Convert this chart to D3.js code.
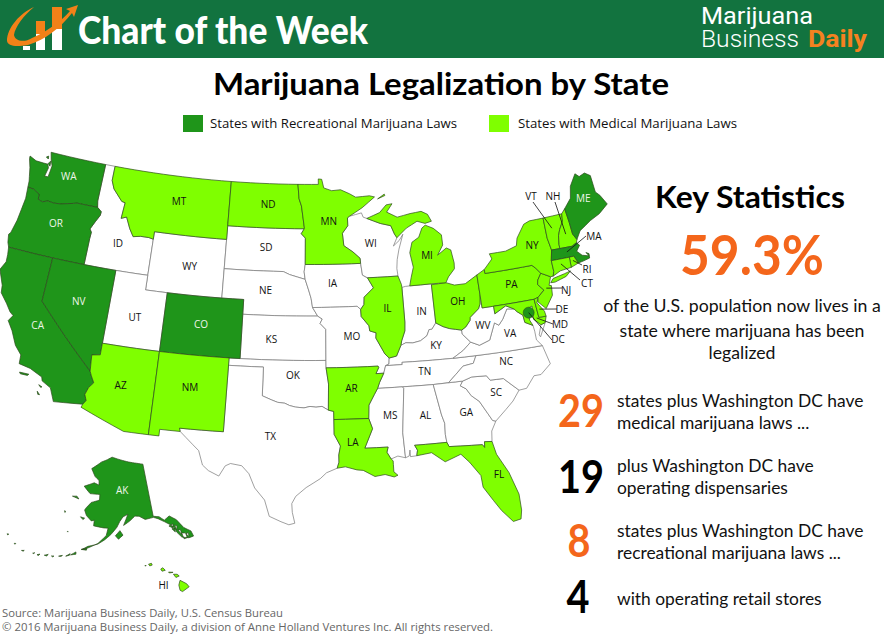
<!DOCTYPE html>
<html>
<head>
<meta charset="utf-8">
<script src="https://cdn.jsdelivr.net/npm/d3@7"></script>
<style>
  html, body { margin: 0; padding: 0; background: #fff; overflow: hidden; }
  text { font-family: Lato, sans-serif; }
</style>
</head>
<body>
<svg id="chart" width="884" height="634"></svg>
<script>
// Legal status by state
var recreationalStates = ["WA", "OR", "CA", "NV", "CO", "AK", "MA", "ME"];
var medicalStates = ["MT", "ND", "MN", "AZ", "NM", "AR", "LA", "FL", "IL", "MI", "OH", "PA", "NY", "VT", "NH", "RI", "CT", "NJ", "DE", "MD", "HI"];
var legendLabels = ["States with Recreational Marijuana Laws", "States with Medical Marijuana Laws"];

// Text of the statistics panel
var keyHeadline = "59.3%";
var keyLines = ["of the U.S. population now lives in a", "state where marijuana has been", "legalized"];
var statNumbers = ["29", "19", "8", "4"];
var statLines = [
  ["states plus Washington DC have", "medical marijuana laws ..."],
  ["plus Washington DC have", "operating dispensaries"],
  ["states plus Washington DC have", "recreational marijuana laws ..."],
  ["with operating retail stores"]
];

// Shared borders, lon/lat
var columbia = [[-116.92,46],[-118.98,46],[-119.3,45.93],[-120.5,45.7],[-121.2,45.65],[-121.8,45.7],[-122.3,45.55],[-122.75,45.65],[-122.8,46],[-123.2,46.15],[-123.5,46.25],[-124.05,46.27]];
var snake = [[-117.03,43.8],[-117,44.25],[-117.2,44.45],[-116.85,45],[-116.5,45.5],[-116.48,45.75],[-116.92,46]];
var idMt = [[-116.05,48],[-115.7,47.45],[-114.7,46.7],[-114.35,46.65],[-114.45,45.55],[-113.95,45.7],[-113.45,44.95],[-113,44.45],[-112.3,44.55],[-111.5,44.55],[-111.05,44.48]];
var coloradoRiver = [[-114.72,32.72],[-114.5,33],[-114.7,33.4],[-114.5,33.9],[-114.15,34.27],[-114.45,34.7],[-114.63,35]];
var redNorth = [[-97.23,49],[-97.1,48],[-96.85,47.5],[-96.55,46],[-96.56,45.94]];
var mnSd = [[-96.56,45.94],[-96.85,45.6],[-96.45,45.3],[-96.45,43.5]];
var missouriNe = [[-96.45,42.49],[-96.1,41.7],[-95.9,41.2],[-95.77,40.58],[-95.31,40]];
var kansasEast = [[-95.31,40],[-94.9,39.8],[-95.1,39.5],[-94.6,39.1],[-94.62,37]];
var redSouth = [[-94.48,33.64],[-95,33.9],[-95.5,33.85],[-96,33.9],[-96.5,33.8],[-97.2,33.85],[-97.7,33.95],[-98.1,34.1],[-98.7,34.15],[-99.2,34.3],[-100,34.56]];
var sabine = [[-94.04,32],[-93.55,31.2],[-93.7,30.6],[-93.7,30.1],[-93.85,29.7]];
var missIowa = [[-91.22,43.5],[-91.1,42.7],[-90.65,42.5],[-90.15,41.8],[-91.05,41.2],[-91.1,40.7],[-91.42,40.38]];
var missMo = [[-91.42,40.38],[-91.4,39.9],[-90.75,39.25],[-90.7,38.9],[-90.15,38.75],[-90.2,38.4],[-89.5,37.3],[-89.15,37]];
var missAr = [[-90.3,35],[-90.6,34.6],[-91.1,33.9],[-91.17,33]];
var missLa = [[-91.17,33],[-90.9,32.3],[-91.6,31]];
var mnWi = [[-92.1,46.75],[-92.3,46.65],[-92.3,46.1],[-92.85,45.6],[-92.75,44.75],[-91.9,44.3],[-91.25,43.85],[-91.22,43.5]];
var ohioIl = [[-87.53,39.35],[-87.6,38.75],[-87.95,38.1],[-88.05,37.8],[-88.5,37.1],[-89.15,37]];
var ohioIn = [[-84.8,39.1],[-85.2,38.7],[-85.45,38.7],[-85.7,38.3],[-86.3,38],[-87,37.9],[-87.6,37.95],[-88.05,37.8]];
var ohioOh = [[-80.52,40.64],[-80.65,40],[-80.85,39.7],[-81.7,39.2],[-81.75,39],[-82.2,38.6],[-82.6,38.42]];
var ohioKy = [[-82.6,38.42],[-83.65,38.62],[-84.2,38.8],[-84.8,39.1]];
var kyWv = [[-82.6,38.42],[-82.6,38.15],[-81.97,37.54]];
var vaWv = [[-81.97,37.54],[-81.25,37.25],[-80.3,37.5],[-79.65,38.6],[-79.3,38.4],[-78.87,38.76],[-78.35,39.4],[-77.72,39.32]];
var potomac = [[-76.35,38],[-77,38.3],[-77.05,38.8],[-77.5,39.1],[-77.72,39.32]];
var ncSc = [[-83.1,35],[-82.3,35.2],[-81.05,35.15],[-80.8,34.82],[-79.68,34.8],[-78.55,33.86]];
var gaSc = [[-83.1,35],[-83.35,34.7],[-82.9,34.45],[-82.55,33.95],[-81.95,33.5],[-81.4,32.6],[-81.1,32.1],[-80.85,32.03]];
var alGa = [[-85.6,34.98],[-85.18,32.87],[-85,32.3],[-85.05,31.55],[-85,31]];
var delaware = [[-74.7,41.36],[-75.1,40.95],[-75.2,40.65],[-74.75,40.2],[-75.4,39.8]];
var nyNe = [[-73.35,45],[-73.4,43.6],[-73.25,42.75]];
var ctRiver = [[-71.5,45.01],[-71.6,44.5],[-72.05,44],[-72.3,43.6],[-72.45,43],[-72.46,42.73]];
var nhMe = [[-71.1,45.3],[-71,44.3],[-70.97,43.5],[-70.7,43.07]];

function rev(a) { return a.slice().reverse(); }

// State outlines, lon/lat, one list of rings per state
var WA = [[[-124.05,46.27],[-124.1,46.7],[-124.2,47],[-124.4,47.6],[-124.7,48.2],[-124.72,48.38],[-124,48.17],[-123.2,48.15],[-122.75,48.15],[-122.6,47.9],[-122.75,47.3],[-122.4,47.3],[-122.35,47.7],[-122.3,48.1],[-122.55,48.5],[-122.76,49],[-117.03,49],[-117.04,46.43]].concat(columbia),
  [[-122.75,48.2],[-122.55,48.4],[-122.5,48.05]], [[-123.1,48.6],[-122.9,48.7],[-122.85,48.5]]];
var OR = [[[-124.05,46.27],[-123.95,45.5],[-124.05,44.7],[-124.15,43.9],[-124.4,43],[-124.55,42.84],[-124.4,42.3],[-124.21,42],[-117.03,42]].concat(snake, columbia)];
var CA = [[[-124.21,42],[-124.1,41.5],[-124.05,41],[-124.4,40.4],[-123.8,39.4],[-123.7,38.9],[-123,38.3],[-122.5,37.8],[-122.15,37.6],[-122.45,37.2],[-121.9,36.6],[-121.3,35.7],[-120.65,35.15],[-120.6,34.55],[-119.6,34.4],[-118.5,34],[-118.4,33.75],[-117.6,33.4],[-117.12,32.53]].concat(coloradoRiver, [[-120,39],[-120,42]]),
  [[-120.4,34],[-119.6,34],[-119.7,33.9],[-120.3,33.9]], [[-118.6,33.45],[-118.3,33.35],[-118.4,33.3]], [[-118.6,33],[-118.35,32.8],[-118.5,32.8]]];
var NV = [[[-120,42],[-114.04,42],[-114.04,36.2],[-114.75,36.1],[-114.63,35],[-120,39]]];
var ID = [[[-117.03,49],[-116.05,49]].concat(idMt, [[-111.05,42],[-114.04,42],[-117.03,42]], snake, [[-117.04,46.43]])];
var MT = [[[-116.05,49],[-104.05,49],[-104.05,45],[-111.05,45]].concat(rev(idMt))];
var WY = [[[-111.05,45],[-104.05,45],[-104.05,41],[-111.05,41]]];
var UT = [[[-114.04,42],[-111.05,42],[-111.05,41],[-109.05,41],[-109.05,37],[-114.04,37]]];
var CO = [[[-109.05,41],[-102.05,41],[-102.05,37],[-109.05,37]]];
var AZ = [[[-114.04,37],[-109.05,37],[-109.05,31.33],[-111.07,31.33],[-114.81,32.5]].concat(coloradoRiver, [[-114.75,36.1],[-114.04,36.2]])];
var NM = [[[-109.05,37],[-103,37],[-103.04,32],[-106.62,32],[-106.53,31.78],[-108.2,31.78],[-108.2,31.33],[-109.05,31.33]]];
var ND = [[[-104.05,49]].concat(redNorth, [[-104.05,45.94]])];
var SD = [[[-104.05,45.94]].concat(mnSd, [[-96.55,43],[-96.45,42.49],[-97.9,42.8],[-98.5,43],[-104.05,43]])];
var NE = [[[-104.05,43],[-98.5,43],[-97.9,42.8]].concat(missouriNe, [[-102.05,40],[-102.05,41],[-104.05,41]])];
var KS = [[[-102.05,40]].concat(kansasEast, [[-102.05,37]])];
var OK = [[[-103,37],[-94.62,37],[-94.62,36.5],[-94.43,35.4]].concat(redSouth, [[-100,36.5],[-103,36.5]])];
var TX = [[[-103,36.5],[-100,36.5]].concat(rev(redSouth), [[-94.04,33.55],[-94.04,33]], sabine, [[-94.7,29.4],[-95.2,29],[-96.3,28.4],[-97.1,27.8],[-97.4,27.3],[-97.35,26.7],[-97.15,25.96],[-97.6,25.85],[-98.2,26.05],[-99.1,26.4],[-99.5,27.5],[-100.3,28.3],[-100.8,29.25],[-101.4,29.77],[-102.3,29.88],[-102.7,29.7],[-103.15,28.98],[-104,29.3],[-104.5,29.65],[-104.9,30.6],[-106,31.4],[-106.53,31.78],[-106.62,32],[-103.04,32]])];
var MN = [[[-97.23,49],[-95.15,49],[-95.15,49.38],[-94.8,49.35],[-94.6,48.75],[-93.8,48.55],[-92.9,48.6],[-92,48.3],[-91.4,48.05],[-90,48.1],[-89.5,48],[-90.8,47.3]].concat(mnWi, [[-96.45,43.5]], rev(mnSd), rev(redNorth))];
var IA = [[[-96.45,43.5]].concat(missIowa, [[-91.72,40.6],[-95.77,40.58],[-95.9,41.2],[-96.1,41.7],[-96.45,42.49],[-96.55,43]])];
var MO = [[[-95.77,40.58],[-91.72,40.6]].concat(missMo, [[-89.2,36.6],[-89.5,36.5],[-89.7,36],[-90.37,36],[-90.1,36.4],[-90.15,36.5],[-94.62,36.5]], rev(kansasEast))];
var AR = [[[-94.62,36.5],[-90.15,36.5],[-90.1,36.4],[-90.37,36],[-89.7,36],[-90.1,35.4]].concat(missAr, [[-94.04,33],[-94.04,33.55],[-94.48,33.64],[-94.43,35.4]])];
var LA = [[[-94.04,33]].concat(missLa, [[-89.73,31],[-89.85,30.65],[-89.55,30.18],[-89.4,30.05],[-89.4,29.8],[-89.4,29.3],[-89.1,29.05],[-89.4,28.95],[-90.1,29.15],[-90.9,29.05],[-91.8,29.5],[-92.3,29.55],[-93.2,29.78]], rev(sabine))];
var WI = [[[-92.1,46.75],[-90.9,46.95],[-90.75,46.65],[-90.4,46.55],[-89.1,46.15],[-88.1,45.95],[-87.8,45.35],[-87.6,45.1],[-88,44.55],[-87.4,44.9],[-87,45.3],[-87.5,44.3],[-87.75,43.6],[-87.85,43],[-87.8,42.49],[-90.65,42.5],[-91.1,42.7],[-91.22,43.5]].concat(rev(mnWi))];
var IL = [[[-90.65,42.5],[-87.8,42.49],[-87.55,41.9],[-87.53,41.7]].concat(ohioIl, rev(missMo), [[-91.1,40.7],[-91.05,41.2],[-90.15,41.8]])];
var IN = [[[-87.53,41.7],[-87.2,41.75],[-86.8,41.76],[-84.8,41.76]].concat(ohioIn, [[-87.95,38.1],[-87.6,38.75],[-87.53,39.35]])];
var OH = [[[-84.8,41.7],[-83.45,41.73],[-82.7,41.5],[-81.7,41.5],[-80.52,41.98]].concat(ohioOh, ohioKy)];
var KY = [[[-89.15,37],[-88.5,37.1]].concat(rev(ohioIn), rev(ohioKy), kyWv.slice(1), [[-82.7,37.05],[-83.68,36.6],[-88.07,36.65],[-88.07,36.5],[-89.5,36.5],[-89.2,36.6]])];
var TN = [[[-89.5,36.5],[-88.07,36.5],[-88.07,36.65],[-83.68,36.6],[-81.68,36.59],[-82,36.1],[-82.9,36],[-84.3,35],[-85.6,34.98],[-88.2,35],[-90.3,35],[-90.1,35.4],[-89.7,36]]];
var MS = [[[-90.3,35],[-88.2,35],[-88.1,34.9],[-88.47,31.9],[-88.4,30.2],[-89,30.35],[-89.55,30.18],[-89.85,30.65],[-89.73,31],[-91.6,31],[-90.9,32.3],[-91.17,33],[-91.1,33.9],[-90.6,34.6]]];
var AL = [[[-88.2,35]].concat(alGa, [[-87.6,31],[-87.4,30.65],[-87.5,30.28],[-88,30.25],[-88,30.7],[-88.1,30.3],[-88.4,30.2],[-88.47,31.9],[-88.1,34.9]])];
var GA = [[[-85.6,34.98]].concat(gaSc, [[-81.3,31.4],[-81.4,30.7],[-82,30.75],[-82.05,30.36],[-82.2,30.57],[-84.86,30.7]], rev(alGa))];
var FL = [[[-87.6,31],[-85,31],[-84.86,30.7],[-82.2,30.57],[-82.05,30.36],[-82,30.75],[-81.4,30.7],[-81.2,29.8],[-80.45,28.45],[-79.95,26.9],[-79.95,25.8],[-80.1,25.2],[-80.7,25.1],[-81.45,25.95],[-81.95,26.7],[-82.6,27.7],[-82.65,28.5],[-83.4,29.5],[-84,30.1],[-85.3,29.7],[-86.3,30.4],[-87.5,30.28],[-87.4,30.65]]];
var SC = [ncSc.concat([[-79.2,33.2],[-79.9,32.7]], rev(gaSc))];
var NC = [[[-84.3,35]].concat(ncSc, [[-77.9,33.9],[-77.1,34.65],[-76.5,34.65],[-75.55,35.25],[-75.9,36.55],[-81.68,36.59],[-82,36.1],[-82.9,36]])];
var VA = [[[-83.68,36.6],[-81.68,36.59],[-75.9,36.55],[-76.3,37],[-76.3,37.6]].concat(potomac, rev(vaWv), [[-82.7,37.05]]),
  [[-75.65,37.95],[-75.25,38.03],[-75.9,37.15],[-75.98,37.3]]];
var WV = [ohioOh.concat(kyWv.slice(1), vaWv.slice(1), [[-78.4,39.62],[-79.48,39.2],[-79.48,39.72],[-80.52,39.72]])];
var PA = [[[-80.52,41.98],[-79.76,42.27],[-79.76,42],[-75.35,42],[-75.05,41.75]].concat(delaware, [[-75.79,39.72],[-80.52,39.72]])];
var MD = [[[-79.48,39.72],[-75.79,39.72],[-75.7,38.46],[-75.05,38.45],[-75.25,38.03],[-75.65,37.95],[-76.2,38.4],[-76.1,39.3],[-76.45,39.2],[-76.55,38.4]].concat(potomac, [[-78.4,39.62],[-79.48,39.2]])];
var DE = [[[-75.79,39.72],[-75.4,39.8],[-75.6,39.45],[-75.1,38.8],[-75.05,38.45],[-75.7,38.46]]];
var NJ = [delaware.concat([[-75.5,39.5],[-74.9,38.95],[-74.1,39.75],[-74,40.4],[-74.2,40.45],[-73.9,41]])];
var NY = [[[-79.76,42.27],[-78.9,42.9],[-79.05,43.27],[-77.5,43.27],[-76.4,43.5],[-76.2,44],[-75.3,44.85],[-74.7,45]].concat(nyNe, [[-73.5,42.05],[-73.5,41.3],[-73.65,41],[-73.9,41],[-74.7,41.36],[-75.05,41.75],[-75.35,42],[-79.76,42]]),
  [[-74,40.6],[-73.7,40.85],[-72.6,41],[-72,41.1],[-72.5,40.8],[-73.6,40.58]]];
var VT = [[[-73.35,45]].concat(ctRiver, [[-73.25,42.75],[-73.4,43.6]])];
var NH = [ctRiver.concat([[-71.3,42.7],[-70.82,42.87]], rev(nhMe))];
var ME = [[[-71.1,45.3],[-70.3,45.9],[-70,46.7],[-69.23,47.46],[-68.9,47.2],[-68.3,47.35],[-67.8,47.07],[-67.78,45.9],[-67.45,45.6],[-67,44.9],[-68,44.4],[-69,44.1],[-70.2,43.6]].concat(rev(nhMe))];
var MA = [[[-73.5,42.05],[-73.25,42.75],[-72.46,42.73],[-71.3,42.7],[-70.82,42.87],[-70.6,42.65],[-71,42.3],[-70.6,41.95],[-70,41.8],[-70.2,42.07],[-69.95,41.95],[-70,41.65],[-70.65,41.55],[-71.12,41.5],[-71.38,42.02],[-71.8,42.02]]];
var RI = [[[-71.8,42.02],[-71.38,42.02],[-71.12,41.5],[-71.85,41.32]]];
var CT = [[[-73.5,42.05],[-71.8,42.02],[-71.85,41.32],[-72.9,41.25],[-73.65,41],[-73.5,41.3]]];
var MI = [[[-86.8,41.76],[-84.8,41.76],[-83.45,41.73],[-83.15,42.1],[-82.5,42.6],[-82.45,43],[-82.6,43.9],[-83,44.07],[-83.9,43.65],[-83.3,44.3],[-83.3,45],[-84,45.5],[-84.75,45.78],[-85.1,45.6],[-85.5,45],[-86.2,44.7],[-86.5,44],[-86.3,43],[-86.6,42.3]],
  [[-90.4,46.55],[-89.1,46.9],[-88.4,47.4],[-87.8,47.45],[-88.4,46.9],[-87.4,46.5],[-86.1,46.67],[-85,46.75],[-84.4,46.5],[-84.1,46],[-84.75,45.9],[-85.5,46.1],[-86.6,45.7],[-87.6,45.1],[-87.8,45.35],[-88.1,45.95],[-89.1,46.15]],
  [[-89.2,47.85],[-88.5,48.15],[-88.45,48.05]]];
var AK = [[[-141,69.65],[-144,70],[-148,70.4],[-152,70.85],[-156.6,71.35],[-159,70.85],[-162,70.3],[-166.2,68.9],[-164,67.6],[-162,67],[-161.8,66.2],[-164,66.5],[-168,65.6],[-165,64.5],[-161,64.6],[-160.9,63.6],[-164,63],[-165.5,62],[-166,61.5],[-165,60.6],[-163,59.8],[-162,60],[-162,59],[-158.5,58.8],[-157,58.8],[-157.5,57.5],[-160,56],[-163,55],[-164.7,54.6],[-163,55.3],[-160,55.9],[-158,56.7],[-156,57.7],[-154,59],[-153,60],[-151.8,60.8],[-150,61.2],[-151.7,59.3],[-149.5,60],[-147.5,60.8],[-146,60.7],[-144,60],[-141,60.1],[-139.5,59.7],[-137.5,58.9],[-136,58.2],[-135,57.5],[-134.5,56.5],[-133.5,55.5],[-131.5,55],[-130,55],[-130.2,56],[-132,57],[-133.5,58.7],[-135.5,59.7],[-137.5,59.2],[-139,60],[-141,60.3]],
  [[-154.5,57.5],[-153,58.4],[-152,57.6],[-153.5,56.9]], [[-171.7,63.4],[-169,63.2],[-170,63.6]], [[-167,60.2],[-165.5,60.1],[-166,59.8]],
  [[-164.9,54.6],[-163.2,54.9],[-163.3,54.6]], [[-167.7,53.3],[-166.3,54],[-166.2,53.6]], [[-169,52.9],[-167.9,53.5],[-168,53.2]], [[-171,52.6],[-170,52.9],[-170.2,52.7]], [[-173,52.3],[-172.3,52.4],[-172.6,52.2]], [[-175,52.05],[-174,52.4],[-174.3,52.05]],
  [[-177,51.7],[-176.3,52],[-176.5,51.7]], [[-178.3,51.7],[-177.8,51.9],[-178,51.7]], [[-181.5,51.4],[-180.8,51.6],[-181,51.4]], [[-184.2,52],[-183.8,52.1],[-183.9,51.9]], [[-187.3,52.9],[-186.8,53],[-187,52.8]], [[-170.3,57.2],[-170,57.2],[-170.1,57.1]], [[-173,60.6],[-172.6,60.4],[-172.8,60.3]],
  [[-136.5,58],[-135,58.2],[-135.4,57.5]], [[-135.8,57.4],[-134.9,57.4],[-135,56.7]], [[-134.6,57.9],[-133.9,57.6],[-134.4,57]], [[-134,56.9],[-133.2,56.8],[-133.3,55.9]], [[-133.2,56.2],[-132,56],[-132,55.1],[-133,55.1]], [[-132,55.8],[-131.2,55.9],[-131.3,55.2]]];
var HI = [[[-155.9,20.25],[-155.1,19.85],[-154.8,19.5],[-155.6,18.95],[-155.9,19.1],[-156.05,19.7]], [[-156.7,20.95],[-156.25,20.95],[-156,20.75],[-156.4,20.58]], [[-158.25,21.55],[-158,21.7],[-157.7,21.4],[-158.1,21.3]],
  [[-159.75,22.1],[-159.4,22.2],[-159.3,22],[-159.6,21.9]], [[-157.3,21.2],[-156.75,21.17],[-157.2,21.1]], [[-160.2,21.9],[-160.1,22],[-160.05,21.9]]];
var stateShapes = {WA,OR,CA,NV,ID,MT,WY,UT,CO,AZ,NM,ND,SD,NE,KS,OK,TX,MN,IA,MO,AR,LA,WI,IL,IN,OH,KY,TN,MS,AL,GA,FL,SC,NC,VA,WV,PA,MD,DE,NJ,NY,VT,NH,ME,MA,RI,CT,MI,AK,HI};

// Where each state's abbreviation sits, lon/lat
var labelSpots = {WA:[-120.4,47.68],OR:[-120.5,44.35],CA:[-119.85,37.3],NV:[-116.8,39.5],ID:[-114.3,43.85],MT:[-109.1,47.28],WY:[-107.3,42.93],UT:[-111.6,39.03],CO:[-105.7,39.07],AZ:[-111.9,34.4],NM:[-106.1,34.8],ND:[-100.2,47.54],SD:[-100.2,44.6],NE:[-100.1,41.67],KS:[-99.4,38.36],OK:[-97.45,35.95],TX:[-99.2,31.8],MN:[-94.15,46.4],IA:[-93.9,42.2],MO:[-92.3,38.55],AR:[-92.5,35.1],LA:[-92.55,31.4],WI:[-90.15,44.8],IL:[-89,40.35],IN:[-85.95,39.97],OH:[-82.6,40.4],KY:[-85,37.55],TN:[-86.2,35.9],MS:[-89.4,33.1],AL:[-86.5,32.95],GA:[-83.15,32.85],FL:[-81.25,28.4],SC:[-80.45,33.95],NC:[-79.2,35.9],WV:[-80.7,38.55],VA:[-78.45,37.7],PA:[-77.55,40.95],NY:[-74.95,43.3],ME:[-69.1,45.65],MI:[-84.9,43.7],AK:[-151.8,65.4],HI:[-157.9,19.65]};

// Northeast labels sit outside the map and point back with a leader line
var leaderLabels = [
  {name:"VT", x:531, y:196, sx:533, sy:202, target:[-72.75,44.2]},
  {name:"NH", x:553, y:196, sx:555, sy:202, target:[-71.6,43.6]},
  {name:"MA", x:594, y:236, sx:586, sy:236, target:[-71.9,42.4]},
  {name:"RI", x:587, y:269, sx:582, sy:265, target:[-71.55,41.75]},
  {name:"CT", x:587, y:283, sx:580, sy:280, target:[-72.7,41.7]},
  {name:"NJ", x:566, y:290, sx:562, sy:288, target:[-74.5,40.3]},
  {name:"DE", x:562, y:309, sx:557, sy:309, target:[-75.5,39]},
  {name:"MD", x:560, y:324, sx:553, sy:324, target:[-75.9,38.45]},
  {name:"DC", x:558, y:339, sx:552, sy:340, target:[-76.5,38.9]}
];
var dcSpot = [-76.5, 38.9];

var svg = d3.select("#chart");

// Colours
var darkGreen = "#1f951a", lightGreen = "#7fff00", orange = "#f4661b", band = "#12733f";

function statusColor(name) {
  if (recreationalStates.includes(name)) return darkGreen;
  if (medicalStates.includes(name)) return lightGreen;
  return "#fff";
}

// Small text helper
function label(g, x, y, str, size, opts) {
  opts = opts || {};
  var t = g.append("text").attr("x", x).attr("y", y).text(str)
    .attr("font-size", size)
    .attr("font-weight", opts.weight || 400)
    .attr("fill", opts.fill || "#111")
    .attr("text-anchor", opts.anchor || "start");
  if (opts.family) t.style("font-family", opts.family);
  if (opts.len) t.attr("textLength", opts.len).attr("lengthAdjust", "spacingAndGlyphs");
  return t;
}

// ---- Projections
// Lower 48: conic, with its own x and y scales
var lower48 = d3.geoAlbers().parallels([20, 50]).rotate([96, 0]).center([0, 0]).scale(1).translate([0, 0]);
var lowerX = d3.scaleLinear().domain([0, 1]).range([310, 310 + 859]);
var lowerY = d3.scaleLinear().domain([0, 1]).range([881.4, 881.4 + 820]);
var alaska = d3.geoAlbers().parallels([55, 65]).rotate([154, 0]).center([-2, 58.5]).scale(326).translate([111, 530]);
var hawaii = d3.geoConicEqualArea().parallels([8, 18]).rotate([157, 0]).center([0, 20]).scale(500).translate([171, 582.5]);

function place(lon, lat, name) {
  if (name === "AK") return alaska([lon, lat]);
  if (name === "HI") return hawaii([lon, lat]);
  var p = lower48([lon, lat]);
  return [lowerX(p[0]), lowerY(p[1])];
}

// Straight borders along a parallel have to bend, so add points on long segments
function densify(ring) {
  var out = [];
  ring.concat([ring[0]]).forEach(function(pt, i, all) {
    if (i === 0) return;
    var prev = all[i - 1];
    var steps = Math.max(Math.ceil(Math.abs(pt[0] - prev[0])), 1);
    for (var k = 0; k < steps; k++) {
      out.push([prev[0] + (pt[0] - prev[0]) * k / steps, prev[1] + (pt[1] - prev[1]) * k / steps]);
    }
  });
  return out;
}

var line = d3.line();

function statePath(name) {
  return stateShapes[name].map(function(ring) {
    return line(densify(ring).map(function(d) { return place(d[0], d[1], name); })) + "Z";
  }).join("");
}

// ---- Header band
svg.append("rect").attr("width", 884).attr("height", 58).attr("fill", band);
var logo = svg.append("g");
[[23,46,7,4],[36,33,9,17],[52,27,10,23]].forEach(function(b) {
  logo.append("rect").attr("x", b[0]).attr("y", b[1]).attr("width", b[2]).attr("height", b[3]).attr("fill", "#fff");
});
[[36,21,9,13],[52,7,10,22]].forEach(function(b) {
  logo.append("rect").attr("x", b[0]).attr("y", b[1]).attr("width", b[2]).attr("height", b[3]).attr("fill", "#f28118");
});
logo.append("path").attr("d", "M7,41C7,28 20,13 34,7C24,15 15,27 14,35C15,41 24,43 32,38C50,30 62,20 70,11L66,9L78,5L74,17L72,13C60,28 45,40 28,45C15,47 8,46 7,41Z").attr("fill", "#f28118");
label(svg, 78, 44, "Chart of the Week", 37, {weight: 900, fill: "#fff", len: 290});
label(svg, 701, 24, "Marijuana", 24, {weight: 400, fill: "#fff", family: "Roboto, sans-serif", len: 112});
label(svg, 701, 47, "Business", 24, {weight: 300, fill: "#fff", family: "Roboto, sans-serif", len: 98});
label(svg, 808, 47, "Daily", 24, {weight: 700, fill: "#f58220", family: "Roboto, sans-serif", len: 59});

// ---- Title and legend
label(svg, 441, 95, "Marijuana Legalization by State", 31, {weight: 700, fill: "#000", anchor: "middle", len: 456});
svg.append("rect").attr("x", 183).attr("y", 115).attr("width", 20).attr("height", 17).attr("fill", darkGreen);
svg.append("rect").attr("x", 489).attr("y", 115).attr("width", 20).attr("height", 17).attr("fill", lightGreen);
label(svg, 210, 128, legendLabels[0], 12, {family: "'Open Sans', sans-serif", len: 247});
label(svg, 518, 128, legendLabels[1], 12, {family: "'Open Sans', sans-serif", len: 219});

// ---- Map: white states first so coloured borders stay on top
var names = Object.keys(stateShapes);
var order = names.filter(function(n) { return statusColor(n) === "#fff"; })
  .concat(names.filter(function(n) { return statusColor(n) !== "#fff"; }));
var map = svg.append("g");
map.selectAll("path").data(order).enter().append("path")
  .attr("d", statePath)
  .attr("fill", statusColor)
  .attr("stroke", function(d) { return statusColor(d) === "#fff" ? "#777" : "#2c4a1c"; })
  .attr("stroke-width", 0.7)
  .attr("stroke-linejoin", "round");

var dc = place(dcSpot[0], dcSpot[1]);
map.append("circle").attr("cx", dc[0]).attr("cy", dc[1]).attr("r", 5.5).attr("fill", darkGreen).attr("stroke", "#2c4a1c").attr("stroke-width", 0.6);

// State abbreviations
Object.keys(labelSpots).forEach(function(name) {
  var p = place(labelSpots[name][0], labelSpots[name][1], name);
  label(map, p[0], p[1] + 3.5, name, 10, {anchor: "middle", family: "'Open Sans', sans-serif",
    fill: recreationalStates.includes(name) ? "#eef5ea" : "#111"});
});

// Leader lines for the crowded northeast
leaderLabels.forEach(function(d) {
  var p = place(d.target[0], d.target[1]);
  map.append("line").attr("x1", d.sx).attr("y1", d.sy).attr("x2", p[0]).attr("y2", p[1]).attr("stroke", "#111").attr("stroke-width", 0.8);
  label(map, d.x, d.y + 3.5, d.name, 10, {anchor: "middle", family: "'Open Sans', sans-serif"});
});

// ---- Key statistics panel
label(svg, 750, 208, "Key Statistics", 30, {weight: 700, fill: "#000", anchor: "middle", len: 190});
label(svg, 752, 275, keyHeadline, 55, {weight: 700, fill: orange, anchor: "middle", len: 144});
[312, 337, 359].forEach(function(y, i) {
  label(svg, 742, y, keyLines[i], 17.7, {anchor: "middle"});
});

var statRows = [
  {cx: 581, y: 427, fill: orange, lines: [407, 429]},
  {cx: 581, y: 493, fill: "#000", lines: [472, 494]},
  {cx: 579, y: 557, fill: orange, lines: [537, 559]},
  {cx: 578, y: 613, fill: "#000", lines: [605]}
];
statRows.forEach(function(row, i) {
  label(svg, row.cx, row.y, statNumbers[i], 45, {weight: 700, fill: row.fill, anchor: "middle", len: statNumbers[i].length * 23});
  row.lines.forEach(function(y, j) {
    label(svg, 617, y, statLines[i][j], 17.4);
  });
});

// ---- Source lines
label(svg, 2, 616.5, "Source: Marijuana Business Daily, U.S. Census Bureau", 10.5, {fill: "#666", family: "'Open Sans', sans-serif", len: 281});
label(svg, 2, 631, "© 2016 Marijuana Business Daily, a division of Anne Holland Ventures Inc. All rights reserved.", 10.5, {fill: "#666", family: "'Open Sans', sans-serif", len: 491});
</script>
</body>
</html>
